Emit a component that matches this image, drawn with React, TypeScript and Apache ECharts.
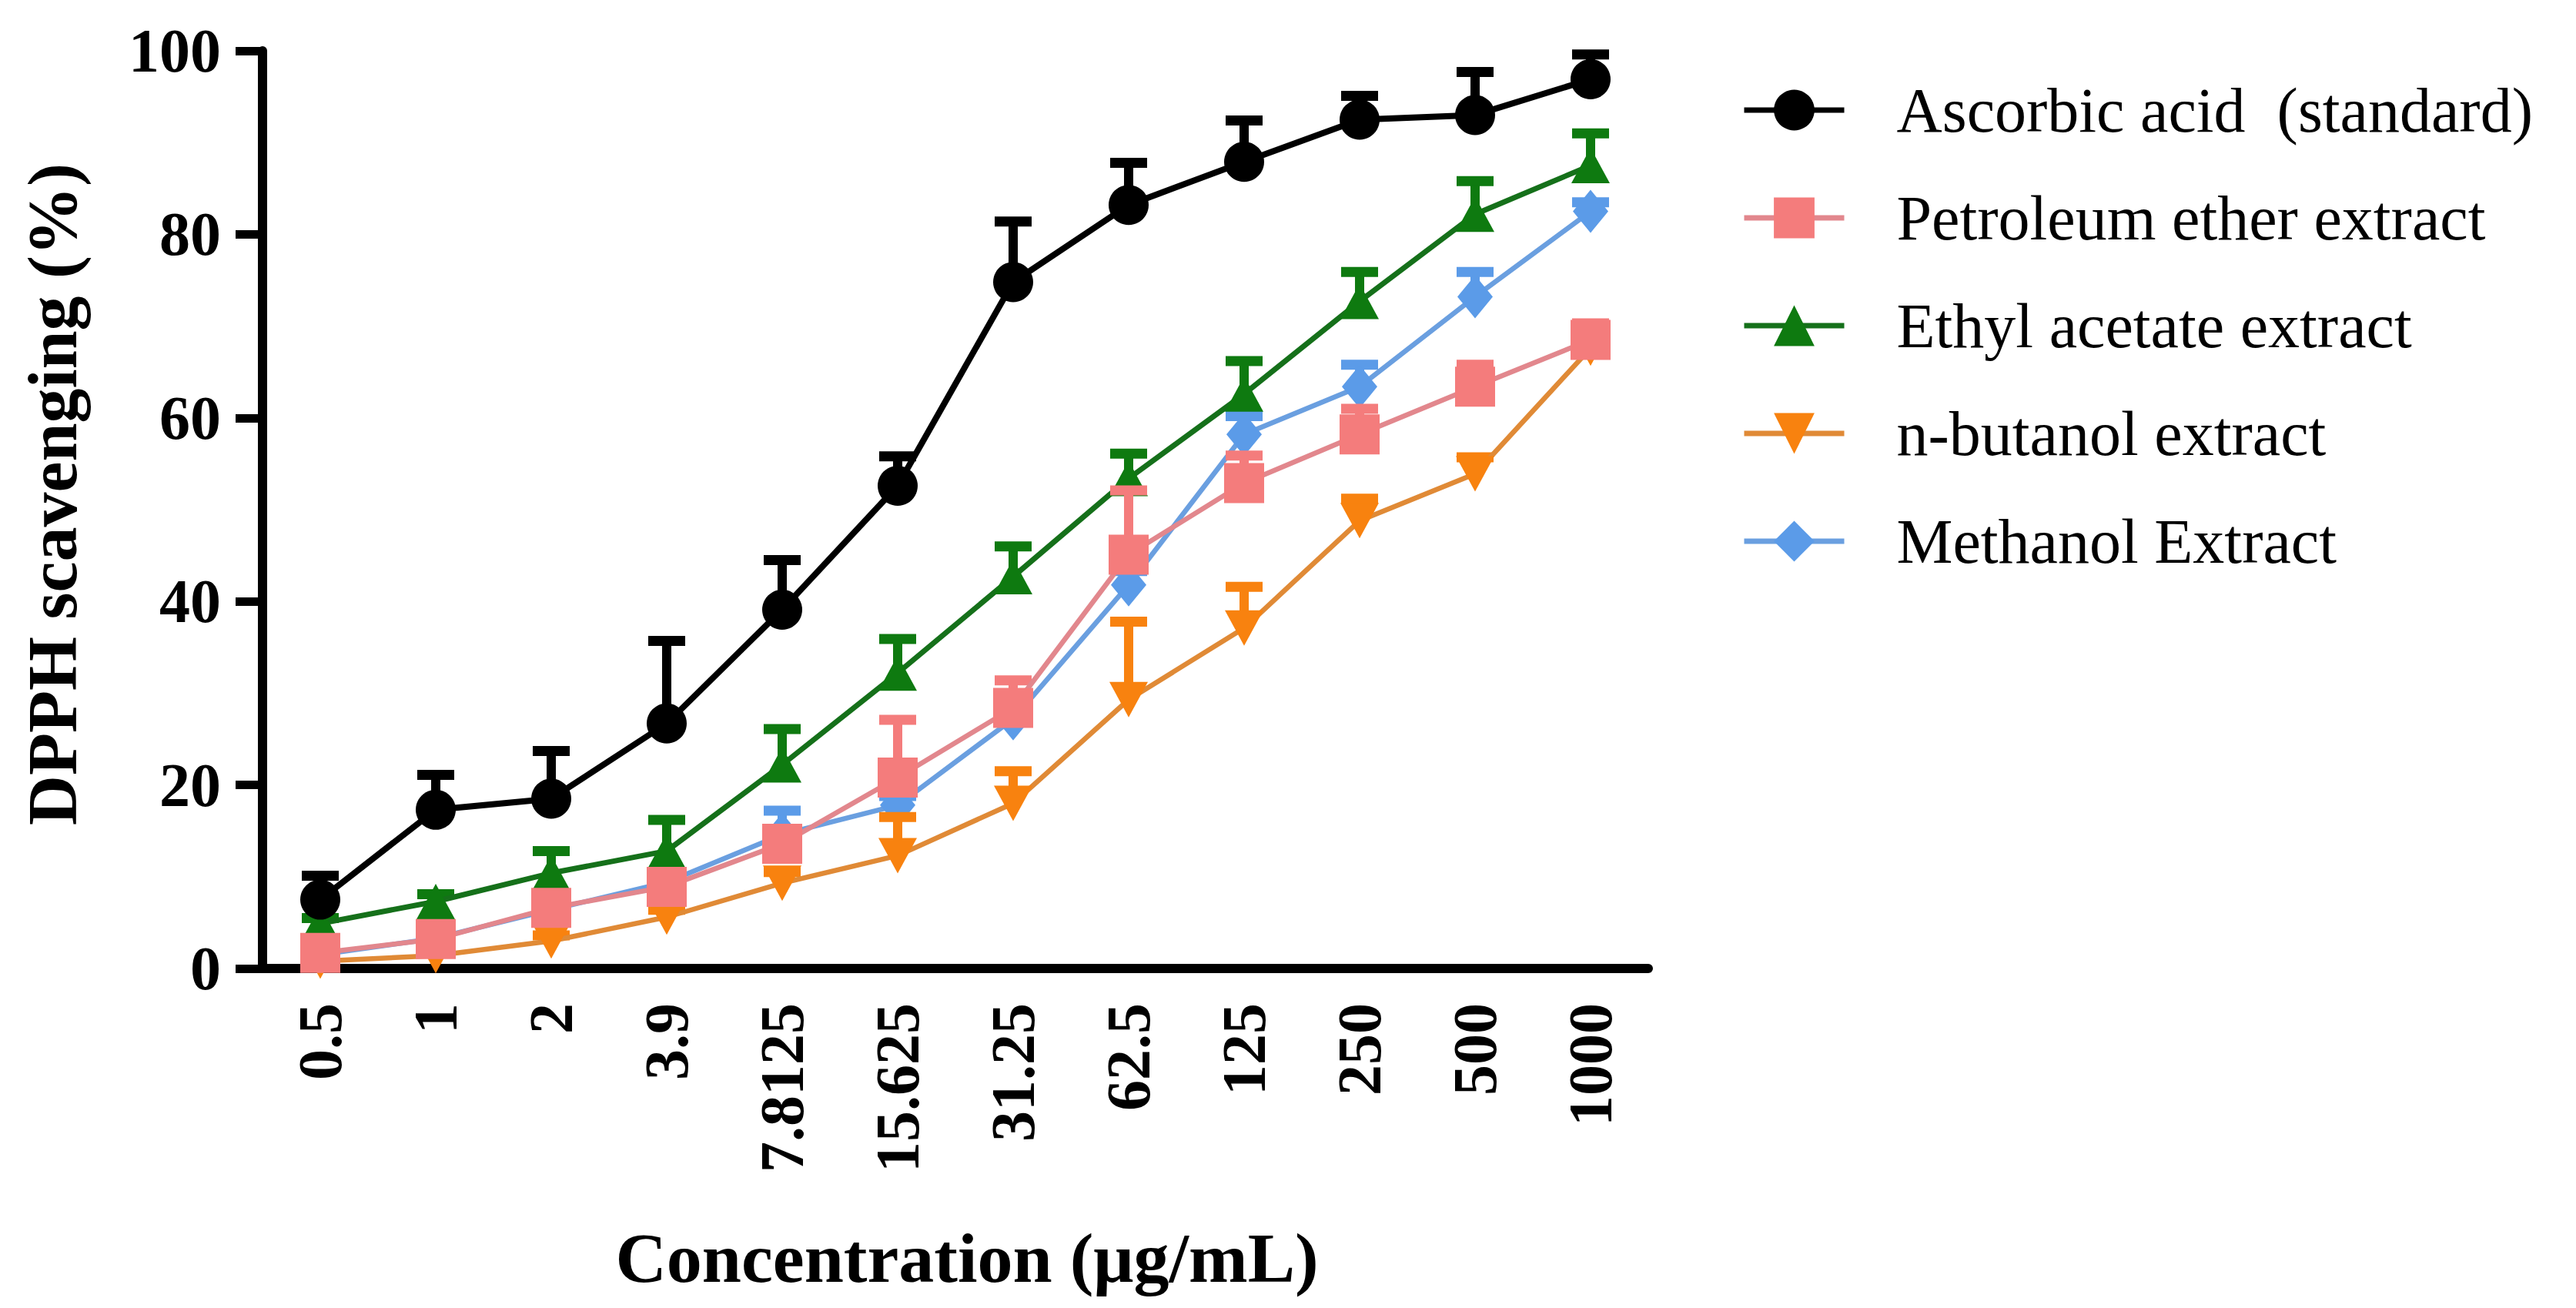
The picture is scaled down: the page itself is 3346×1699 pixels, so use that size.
import React, { useEffect, useRef } from "react";
import * as echarts from "echarts";

const categories = ["0.5", "1", "2", "3.9", "7.8125", "15.625", "31.25", "62.5", "125", "250", "500", "1000"];

const seriesNames = [
  "Ascorbic acid  (standard)",
  "Petroleum ether extract",
  "Ethyl acetate extract",
  "n-butanol extract",
  "Methanol Extract",
];

const ascorbic = [7.5, 17.3, 18.5, 26.7, 39.1, 52.6, 74.8, 83.2, 87.9, 92.5, 93.0, 96.9];
const ascorbicErr = [2.6, 3.8, 5.2, 9.0, 5.4, 3.2, 6.6, 4.6, 4.5, 2.6, 4.7, 2.7];

const petroleum = [1.7, 3.2, 6.6, 8.9, 13.6, 20.8, 28.4, 45.1, 52.9, 58.2, 63.4, 68.5];
const petroleumErr = [0.5, 0.6, 0.8, 1.0, 1.6, 6.3, 3.0, 7.0, 3.0, 2.8, 2.4, 1.8];

const ethyl = [4.9, 7.3, 10.4, 12.8, 22.2, 32.2, 42.7, 53.4, 62.6, 72.7, 82.2, 87.5];
const ethylErr = [0.6, 0.8, 2.4, 3.4, 3.9, 3.7, 3.3, 2.7, 3.6, 3.2, 3.6, 3.5];

const butanol = [0.8, 1.4, 3.0, 5.6, 9.3, 12.3, 18.0, 29.3, 37.1, 48.8, 53.9, 67.6];
const butanolErr = [0.3, 0.4, 0.6, 0.8, 1.2, 4.2, 3.5, 8.5, 4.5, 2.4, 1.8, 1.0];

const methanol = [1.5, 3.3, 6.4, 9.4, 14.6, 17.8, 27.2, 41.8, 58.2, 63.4, 73.2, 82.5];
const methanolErr = [0.4, 0.5, 0.7, 1.0, 2.6, 1.0, 2.0, 1.5, 2.0, 2.4, 2.7, 1.0];

const yTicks = { min: 0, max: 100, interval: 20 };

const FONT = "'Liberation Serif', 'Times New Roman', serif";

type Spec = {
  name: string;
  values: number[];
  errs: number[];
  color: string;
  lineColor: string;
  symbol: string;
  symbolSize: number | number[];
  symbolRotate: number;
  lineWidth: number;
  z: number;
};

const specs: Spec[] = [
  { name: seriesNames[4], values: methanol, errs: methanolErr, color: "#5B9BE8", lineColor: "#6A9FE0", symbol: "diamond", symbolSize: [46, 56], symbolRotate: 0, lineWidth: 6.5, z: 2 },
  { name: seriesNames[3], values: butanol, errs: butanolErr, color: "#F8820F", lineColor: "#E08A36", symbol: "triangle", symbolSize: [50, 46], symbolRotate: 180, lineWidth: 6.5, z: 3 },
  { name: seriesNames[2], values: ethyl, errs: ethylErr, color: "#0E7A10", lineColor: "#15701A", symbol: "triangle", symbolSize: [50, 46], symbolRotate: 0, lineWidth: 7, z: 4 },
  { name: seriesNames[1], values: petroleum, errs: petroleumErr, color: "#F47C7C", lineColor: "#E2878D", symbol: "rect", symbolSize: [52, 52], symbolRotate: 0, lineWidth: 6.5, z: 5 },
  { name: seriesNames[0], values: ascorbic, errs: ascorbicErr, color: "#000000", lineColor: "#000000", symbol: "circle", symbolSize: 52, symbolRotate: 0, lineWidth: 8, z: 6 },
];

export default function App() {
  const ref = useRef<HTMLDivElement>(null);

  useEffect(() => {
    if (!ref.current) return;
    const chart = echarts.init(ref.current, null, { renderer: "svg" });

    const series: any[] = [];
    specs.forEach((s, si) => {
      series.push({
        type: "custom",
        name: "err-" + si,
        z: s.z,
        encode: { x: 0, y: 1 },
        data: s.values.map((v, i) => [i, v, s.errs[i]]),
        renderItem: (params: any, api: any) => {
          const idx = api.value(0);
          const v = api.value(1);
          const e = api.value(2);
          const p0 = api.coord([idx, v]);
          const p1 = api.coord([idx, v + e]);
          return {
            type: "group",
            children: [
              { type: "line", shape: { x1: p0[0], y1: p0[1], x2: p1[0], y2: p1[1] }, style: { stroke: s.color, lineWidth: 12 } },
              { type: "line", shape: { x1: p1[0] - 24, y1: p1[1], x2: p1[0] + 24, y2: p1[1] }, style: { stroke: s.color, lineWidth: 13 } },
            ],
          };
        },
      });
      series.push({
        type: "line",
        name: s.name,
        z: s.z,
        data: s.values,
        symbol: s.symbol,
        symbolSize: s.symbolSize,
        symbolRotate: s.symbolRotate,
        showAllSymbol: true,
        itemStyle: { color: s.color, opacity: 1 },
        lineStyle: { color: s.lineColor, width: s.lineWidth },
        emphasis: { disabled: true },
      });
    });

    chart.setOption({
      animation: false,
      backgroundColor: "#ffffff",
      grid: { left: 341, right: 1205, top: 66, bottom: 441, containLabel: false },
      xAxis: {
        type: "category",
        data: categories,
        boundaryGap: true,
        name: "Concentration (μg/mL)",
        nameLocation: "middle",
        nameGap: 330,
        nameTextStyle: { fontFamily: FONT, fontWeight: "bold", fontSize: 92, color: "#000", padding: [0, 0, 0, 30] },
        axisLine: { lineStyle: { color: "#000", width: 12 } },
        axisTick: { alignWithLabel: true, length: 30, lineStyle: { color: "#000", width: 9 } },
        axisLabel: { rotate: 90, margin: 45, fontFamily: FONT, fontWeight: "bold", fontSize: 80, color: "#000", interval: 0 },
        splitLine: { show: false },
      },
      yAxis: {
        type: "value",
        min: yTicks.min,
        max: yTicks.max,
        interval: yTicks.interval,
        name: "DPPH scavenging (%)",
        nameLocation: "middle",
        nameGap: 228,
        nameTextStyle: { fontFamily: FONT, fontWeight: "bold", fontSize: 90, color: "#000", padding: [0, 0, 0, 40] },
        axisLine: { show: true, lineStyle: { color: "#000", width: 12 } },
        axisTick: { show: true, length: 35, lineStyle: { color: "#000", width: 11 } },
        axisLabel: { margin: 54, fontFamily: FONT, fontWeight: "bold", fontSize: 80, color: "#000" },
        splitLine: { show: false },
      },
      legend: {
        orient: "vertical",
        left: 2262,
        top: 102,
        padding: 0,
        itemWidth: 130,
        itemHeight: 66,
        itemGap: 58,
        data: seriesNames,
        lineStyle: { width: 7 },
        textStyle: { fontFamily: FONT, fontSize: 82, color: "#000", lineHeight: 66, padding: [0, 0, 0, 63] },
        selectedMode: false,
      },
      series,
    });

    return () => chart.dispose();
  }, []);

  return (
    <div
      ref={ref}
      style={{ position: "fixed", left: 0, top: 0, width: 3346, height: 1699, background: "#fff" }}
    />
  );
}
